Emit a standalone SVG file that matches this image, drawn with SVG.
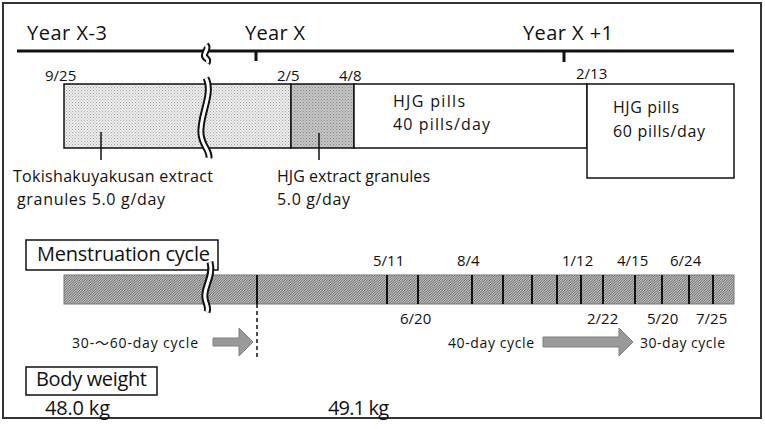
<svg xmlns="http://www.w3.org/2000/svg" width="765" height="429" viewBox="0 0 765 429">
<defs>
<pattern id="dotLight" width="3" height="3" patternUnits="userSpaceOnUse">
<rect width="3" height="3" fill="#ececec"/>
<rect x="0" y="0" width="1" height="1" fill="#a8a8a8"/>
<rect x="1.5" y="1.5" width="1" height="1" fill="#b8b8b8"/>
</pattern>
<pattern id="dotDark" width="3" height="3" patternUnits="userSpaceOnUse">
<rect width="3" height="3" fill="#c4c4c4"/>
<rect x="0" y="0" width="1" height="1" fill="#8c8c8c"/>
<rect x="1.5" y="1.5" width="1" height="1" fill="#9c9c9c"/>
</pattern>
<pattern id="hatch" width="2.5" height="2.5" patternUnits="userSpaceOnUse">
<rect width="2.5" height="2.5" fill="#bdbdbd"/>
<path d="M-1,1 L1,-1 M0,2.5 L2.5,0 M1.5,3.5 L3.5,1.5" stroke="#5a5a5a" stroke-width="0.8"/>
</pattern>
</defs>
<style>
text{font-family:"Open Sans","Noto Sans","Liberation Sans","Noto Sans CJK JP",sans-serif;fill:#111;}
.big{font-size:20px;}
.mid{font-size:16px;}
.sm{font-size:14px;}
.dt{font-size:15px;}
.box{fill:#fff;stroke:#111;stroke-width:1.5;}
.ln{stroke:#111;stroke-width:1.5;fill:none;}
.div{stroke:#111;stroke-width:2;}
.brkB{fill:none;stroke:#111;stroke-width:7;}
.brkW{fill:none;stroke:#fff;stroke-width:3;}
.arrow{fill:#9a9a9a;stroke:#7f7f7f;stroke-width:1;}
</style>
<rect x="3" y="3" width="758" height="415" fill="#fff" stroke="#333" stroke-width="2"/>

<g id="timeline">
<line x1="17" y1="51" x2="734" y2="51" stroke="#111" stroke-width="3"/>
<line x1="256" y1="51" x2="256" y2="61" stroke="#111" stroke-width="3"/>
<line x1="564" y1="51" x2="564" y2="62" stroke="#111" stroke-width="3"/>
<path class="brkB" d="M206,45 C210,49 202,54 205,57 C207,59 209,60 207,63"/>
<path class="brkW" d="M206,45 C210,49 202,54 205,57 C207,59 209,60 207,63"/>
<text class="big" x="27" y="40" textLength="80">Year X-3</text>
<text class="big" x="245" y="40" textLength="60">Year X</text>
<text class="big" x="523" y="40" textLength="90">Year X +1</text>
</g>

<g id="treatment-dates">
<text class="dt" x="45" y="81">9/25</text>
<text class="dt" x="277" y="81">2/5</text>
<text class="dt" x="339" y="81">4/8</text>
<text class="dt" x="576" y="79">2/13</text>
</g>

<g id="tokishakuyakusan">
<rect x="64" y="84" width="227" height="64" fill="url(#dotLight)" stroke="#111" stroke-width="1.5"/>
<text class="mid" x="13" y="182" textLength="200">Tokishakuyakusan extract</text>
<text class="mid" x="17" y="205" textLength="148">granules 5.0 g/day</text>
</g>

<g id="hjg-extract">
<rect x="291" y="84" width="63" height="64" fill="url(#dotDark)" stroke="#111" stroke-width="1.5"/>
<text class="mid" x="277" y="182" textLength="153">HJG extract granules</text>
<text class="mid" x="277" y="205" textLength="73">5.0 g/day</text>
</g>

<g id="hjg-pills-40">
<rect class="box" x="354" y="84" width="233" height="64"/>
<text class="mid" x="393" y="107" textLength="72">HJG pills</text>
<text class="mid" x="393" y="130" textLength="97">40 pills/day</text>
</g>

<g id="hjg-pills-60">
<rect class="box" x="587" y="84" width="147" height="94"/>
<text class="mid" x="613" y="113" textLength="66">HJG pills</text>
<text class="mid" x="613" y="137" textLength="92">60 pills/day</text>
</g>

<g id="treatment-break">
<path class="brkB" d="M206,78 C214,94 199,116 201,134 C202,146 210,150 209,158"/>
<path class="brkW" d="M206,78 C214,94 199,116 201,134 C202,146 210,150 209,158"/>
</g>

<g id="menstruation-label">
<rect class="box" x="26" y="240" width="192" height="30"/>
<text class="big" x="37" y="261" textLength="173">Menstruation cycle</text>
</g>

<g id="cycle-bar">
<rect x="64" y="275" width="670" height="29" fill="url(#hatch)" stroke="#777" stroke-width="1"/>
<line class="div" x1="257" y1="275" x2="257" y2="304"/>
<line class="div" x1="387" y1="275" x2="387" y2="304"/>
<line class="div" x1="418" y1="275" x2="418" y2="304"/>
<line class="div" x1="472" y1="275" x2="472" y2="304"/>
<line class="div" x1="503" y1="275" x2="503" y2="304"/>
<line class="div" x1="532" y1="275" x2="532" y2="304"/>
<line class="div" x1="557" y1="275" x2="557" y2="304"/>
<line class="div" x1="581" y1="275" x2="581" y2="304"/>
<line class="div" x1="603" y1="275" x2="603" y2="304"/>
<line class="div" x1="635" y1="275" x2="635" y2="304"/>
<line class="div" x1="662" y1="275" x2="662" y2="304"/>
<line class="div" x1="689" y1="275" x2="689" y2="304"/>
<line class="div" x1="713" y1="275" x2="713" y2="304"/>
<path class="brkB" d="M210,262 C214,276 203,288 205,298 C206,305 209,307 207,312"/>
<path class="brkW" d="M210,262 C214,276 203,288 205,298 C206,305 209,307 207,312"/>
</g>

<g id="cycle-dates">
<text class="dt" x="373" y="266">5/11</text>
<text class="dt" x="457" y="266">8/4</text>
<text class="dt" x="562" y="266">1/12</text>
<text class="dt" x="617" y="266">4/15</text>
<text class="dt" x="670" y="266">6/24</text>
<text class="dt" x="400" y="324">6/20</text>
<text class="dt" x="587" y="324">2/22</text>
<text class="dt" x="647" y="324">5/20</text>
<text class="dt" x="696" y="324">7/25</text>
</g>

<g id="cycle-labels">
<text class="sm" x="72" y="348" textLength="126">30-～60-day cycle</text>
<text class="sm" x="448" y="348" textLength="86">40-day cycle</text>
<text class="sm" x="640" y="348" textLength="85">30-day cycle</text>
</g>

<g id="connectors">
<line class="ln" x1="101" y1="132" x2="101" y2="160"/>
<line class="ln" x1="319" y1="133" x2="319" y2="160"/>
<line x1="257" y1="304" x2="257" y2="360" stroke="#111" stroke-width="1.5" stroke-dasharray="4,3"/>
<path class="arrow" d="M213,338 L239,338 L239,328 L253,342 L239,356 L239,346 L213,346 Z"/>
<path class="arrow" d="M543,337 L619,337 L619,328 L633,342 L619,356 L619,347 L543,347 Z"/>
</g>

<g id="body-weight">
<rect class="box" x="26" y="367" width="131" height="28"/>
<text class="big" x="36" y="386" textLength="111">Body weight</text>
<text class="big" x="45" y="415" textLength="65">48.0 kg</text>
<text class="big" x="328" y="415" textLength="61">49.1 kg</text>
</g>
</svg>
